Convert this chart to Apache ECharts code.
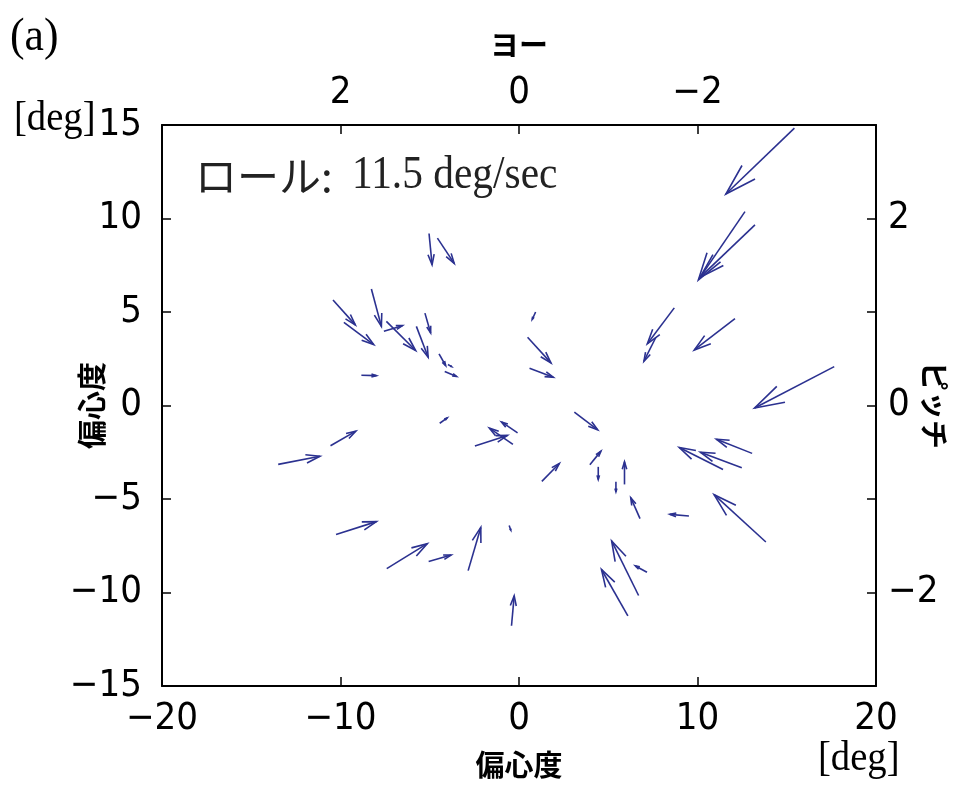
<!DOCTYPE html>
<html>
<head>
<meta charset="utf-8">
<script src="https://cdn.jsdelivr.net/npm/echarts@6/dist/echarts.min.js"></script>
<style>
html,body{margin:0;padding:0;background:#fff;overflow:hidden;}
#main{width:962px;height:789px;}
</style>
</head>
<body>
<div id="main"></div>
<script>
// Arrow tails (deg) and vector components (deg)
const tailX = [-5.04,-4.57,-10.42,-8.27,-9.81,-7.57,-7.43,-5.75,-5.27,-4.48,-3.98,-4.16,-8.83,
  15.43,12.66,13.22,0.93,0.48,0.59,8.70,7.67,12.10,17.66,
  -4.44,-10.56,-13.49,-2.47,-0.34,-0.08,-10.25,-7.41,-5.06,-2.85,-0.55,-0.42,
  3.10,3.97,1.28,4.44,5.91,5.43,6.78,9.52,13.83,11.43,12.48,13.06,6.70,6.10,7.17];
const tailY = [9.20,8.95,5.64,6.23,4.45,3.97,4.50,4.23,4.94,2.76,2.19,1.82,1.62,
  14.83,10.37,9.66,5.00,3.65,1.99,5.22,3.65,4.64,2.08,
  -0.95,-2.15,-3.15,-2.16,-2.08,-1.46,-6.90,-8.72,-8.34,-8.83,-6.42,-11.78,
  -0.36,-3.17,-4.06,-3.28,-4.22,-4.08,-6.05,-5.91,-7.30,-3.42,-3.33,-2.56,-10.16,-11.25,-8.92];
const vecU = [0.17,0.94,1.25,0.56,1.67,1.04,1.64,0.66,0.32,0.37,0.20,0.66,0.84,
  -3.84,-2.61,-3.08,-0.19,1.31,1.33,-1.51,-0.67,-2.28,-4.46,
  0.42,1.42,2.34,1.82,-1.32,-0.90,2.26,2.27,1.26,0.71,0.09,0.15,
  1.31,0.62,0.98,0.00,0.00,0.00,-0.52,-1.07,-2.90,-2.45,-2.32,-2.00,-1.51,-1.48,-0.65];
const vecV = [-1.67,-1.35,-1.33,-2.00,-1.19,0.30,-1.56,-1.65,-1.06,-0.62,-0.11,-0.27,-0.02,
  -3.52,-3.65,-2.81,-0.40,-1.37,-0.48,-1.92,-1.28,-1.67,-2.21,
  0.29,0.78,0.44,0.56,0.87,0.58,0.69,1.33,0.34,2.31,-0.25,1.60,
  -0.94,0.73,0.96,-0.68,1.21,-0.53,1.12,0.09,2.53,1.17,0.83,0.76,2.92,2.48,0.34];

// Tick labels
const xTicks = [-20,-10,0,10,20];
const yTicks = [-15,-10,-5,0,5,10,15];
const yawTickPos = [-10,0,10];
const yawTickLabels = ['2','0','\u22122'];
const pitchTickPos = [-10,0,10];
const pitchTickLabels = ['\u22122','0','2'];

const data = tailX.map((x,i)=>[x, tailY[i], vecU[i], vecV[i]]);
const fmtNum = v => (v<0 ? '\u2212' + Math.abs(v) : String(v));

const numFont = '"Liberation Sans Narrow","DejaVu Sans Condensed","Liberation Sans",sans-serif';
const cjkFont = '"Noto Sans CJK JP","Noto Sans",sans-serif';
const serifFont = '"Liberation Serif","DejaVu Serif",serif';
const ARROW = '#2b3190';

function renderItem(params, api){
  const x = api.value(0), y = api.value(1), u = api.value(2), v = api.value(3);
  const p0 = api.coord([x,y]);
  const p1 = api.coord([x+u,y+v]);
  const dx = p1[0]-p0[0], dy = p1[1]-p0[1];
  const a = 0.33, b = 0.3;
  const b1 = [p1[0]-a*(dx + b*dy), p1[1]-a*(dy - b*dx)];
  const b2 = [p1[0]-a*(dx - b*dy), p1[1]-a*(dy + b*dx)];
  const st = {stroke:ARROW, lineWidth:1.6, fill:null};
  return {type:'group', children:[
    {type:'line', shape:{x1:p0[0],y1:p0[1],x2:p1[0],y2:p1[1]}, style:st},
    {type:'polyline', shape:{points:[b1,p1,b2]}, style:st}
  ]};
}

const axisLine = {show:true, onZero:false, lineStyle:{color:'#000', width:2}};
const tickIn = {show:true, inside:true, length:9, lineStyle:{color:'#000', width:1.5}};
const lblStyle = {color:'#000', fontFamily:numFont, fontSize:38};
const nameStyle = {fontFamily:cjkFont, fontSize:29, fontWeight:'bold', color:'#000'};

const chart = echarts.init(document.getElementById('main'), null, {renderer:'canvas', width:962, height:789});
chart.setOption({
  animation:false,
  backgroundColor:'#fff',
  grid:{left:162, right:86, top:125, bottom:103},
  xAxis:[
    {type:'value', position:'bottom', min:xTicks[0], max:xTicks[xTicks.length-1], interval:10,
     axisLine, axisTick:tickIn, splitLine:{show:false},
     axisLabel:{...lblStyle, margin:14, formatter:v=>fmtNum(v)},
     name:'偏心度', nameLocation:'middle', nameGap:64, nameMoveOverlap:false,
     nameTextStyle:nameStyle},
    {type:'value', position:'top', min:xTicks[0], max:xTicks[xTicks.length-1], interval:10,
     axisLine, axisTick:tickIn, splitLine:{show:false},
     axisLabel:{...lblStyle, margin:13, formatter:v=>{const k=yawTickPos.indexOf(v); return k<0?'':yawTickLabels[k];}},
     name:'ヨー', nameLocation:'middle', nameGap:66, nameMoveOverlap:false,
     nameTextStyle:nameStyle}
  ],
  yAxis:[
    {type:'value', position:'left', min:yTicks[0], max:yTicks[yTicks.length-1], interval:5,
     axisLine, axisTick:tickIn, splitLine:{show:false},
     axisLabel:{...lblStyle, margin:20, formatter:v=>fmtNum(v)},
     name:'偏心度', nameLocation:'middle', nameGap:56, nameMoveOverlap:false,
     nameTextStyle:nameStyle},
    {type:'value', position:'right', min:yTicks[0], max:yTicks[yTicks.length-1], interval:5,
     axisLine, axisTick:tickIn, splitLine:{show:false},
     axisLabel:{...lblStyle, margin:12, formatter:v=>{const k=pitchTickPos.indexOf(v); return k<0?'':pitchTickLabels[k];}},
     name:'ピッチ', nameLocation:'middle', nameGap:44, nameRotate:-90, nameMoveOverlap:false,
     nameTextStyle:nameStyle}
  ],
  graphic:[
    {type:'text', x:10, y:15, scaleX:0.95, style:{text:'(a)', font:'46px '+serifFont, fill:'#000'}},
    {type:'text', x:14, y:98, scaleX:0.92, style:{text:'[deg]', font:'42px '+serifFont, fill:'#000'}},
    {type:'text', x:818, y:738, scaleX:0.92, style:{text:'[deg]', font:'42px '+serifFont, fill:'#000'}},
    {type:'text', x:195, y:176, style:{text:'ロール:', font:'42px '+cjkFont, fill:'#222', verticalAlign:'middle'}},
    {type:'text', x:352, y:176, scaleX:0.9, style:{text:'11.5 deg/sec', font:'46px '+serifFont, fill:'#222', verticalAlign:'middle'}}
  ],
  series:[{
    type:'custom', xAxisIndex:0, yAxisIndex:0,
    renderItem, data, clip:false,
    encode:{x:0, y:1}
  }]
});
</script>
</body>
</html>
